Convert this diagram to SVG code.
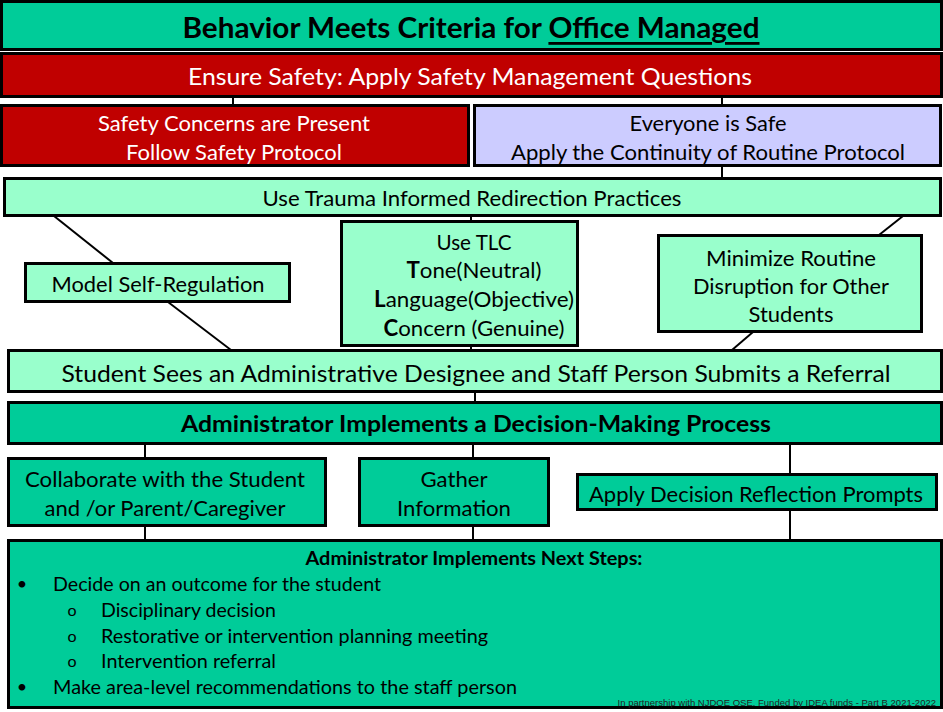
<svg xmlns="http://www.w3.org/2000/svg" width="943" height="712" viewBox="0 0 943 712">
<style>
.box{stroke:#000;stroke-width:3}
.teal{fill:#00CC99}
.red{fill:#C00000}
.lav{fill:#CCCCFF}
.mint{fill:#99FFCC}
text{font-family:Lato,"Open Sans","Liberation Sans",sans-serif;fill:#000;text-anchor:middle;dominant-baseline:central}
.t{font-size:22px}
.w{fill:#fff}
.b{font-weight:bold}
.l{text-anchor:start}
.s20{font-size:20px}
.bul{font-size:18px}
.sub{font-size:16px}
.foot{font-family:"Liberation Sans",Arial,sans-serif;font-size:9.5px;fill:#222;text-anchor:end}
.c line{stroke:#000;stroke-width:2}
</style>
<rect width="943" height="712" fill="#fff"/>
<g class="c" id="connectors">
<line x1="233" y1="97" x2="233" y2="105"/>
<line x1="722" y1="97" x2="722" y2="105"/>
<line x1="722" y1="166" x2="722" y2="178"/>
<line x1="54" y1="216" x2="113" y2="263"/>
<line x1="168" y1="302" x2="231" y2="350"/>
<line x1="471" y1="216" x2="471" y2="221"/>
<line x1="471" y1="346" x2="471" y2="350"/>
<line x1="903" y1="216" x2="879" y2="235"/>
<line x1="753" y1="332" x2="732" y2="350"/>
<line x1="475" y1="392" x2="475" y2="402"/>
<line x1="145" y1="444" x2="145" y2="458"/>
<line x1="473" y1="444" x2="473" y2="458"/>
<line x1="790" y1="444" x2="790" y2="474"/>
<line x1="145" y1="526" x2="145" y2="540"/>
<line x1="473" y1="526" x2="473" y2="540"/>
<line x1="790" y1="510" x2="790" y2="540"/>
</g>
<g id="title">
<rect class="box teal" x="1.5" y="1.5" width="940" height="48"/>
<text class="b" x="471" y="27" style="font-size:28px" textLength="577" lengthAdjust="spacingAndGlyphs">Behavior Meets Criteria for <tspan text-decoration="underline">Office Managed</tspan></text>
</g>
<g id="ensure">
<rect class="box red" x="1.5" y="53.5" width="940" height="43"/>
<text class="w" x="470" y="76" style="font-size:23px" textLength="564" lengthAdjust="spacingAndGlyphs">Ensure Safety:  Apply Safety Management Questions</text>
</g>
<g id="concerns">
<rect class="box red" x="1.5" y="105.5" width="467" height="60"/>
<text class="t w" x="234" y="122" textLength="272" lengthAdjust="spacingAndGlyphs">Safety Concerns are Present</text>
<text class="t w" x="234" y="151" textLength="216" lengthAdjust="spacingAndGlyphs">Follow Safety Protocol</text>
</g>
<g id="safe">
<rect class="box lav" x="474.5" y="105.5" width="466" height="60"/>
<text class="t" x="708" y="122" textLength="157" lengthAdjust="spacingAndGlyphs">Everyone is Safe</text>
<text class="t" x="708" y="151" textLength="394" lengthAdjust="spacingAndGlyphs">Apply the Continuity of Routine Protocol</text>
</g>
<g id="trauma">
<rect class="box mint" x="4.5" y="178.5" width="936" height="37"/>
<text class="t" x="472" y="197" textLength="419" lengthAdjust="spacingAndGlyphs">Use Trauma Informed Redirection Practices</text>
</g>
<g id="model">
<rect class="box mint" x="25.5" y="263.5" width="264" height="38"/>
<text class="t" x="158" y="283" textLength="213" lengthAdjust="spacingAndGlyphs">Model Self-Regulation</text>
</g>
<g id="tlc">
<rect class="box mint" x="341.5" y="221.5" width="236" height="124"/>
<text class="t" x="474" y="241" textLength="75" lengthAdjust="spacingAndGlyphs">Use TLC</text>
<text class="t" x="474" y="269" textLength="135" lengthAdjust="spacingAndGlyphs"><tspan class="b">T</tspan>one(Neutral)</text>
<text class="t" x="474" y="298" textLength="200" lengthAdjust="spacingAndGlyphs"><tspan class="b">L</tspan>anguage(Objective)</text>
<text class="t" x="474" y="327" textLength="181" lengthAdjust="spacingAndGlyphs"><tspan class="b">C</tspan>oncern (Genuine)</text>
</g>
<g id="minimize">
<rect class="box mint" x="658.5" y="235.5" width="263" height="96"/>
<text class="t" x="791" y="257" textLength="170" lengthAdjust="spacingAndGlyphs">Minimize Routine</text>
<text class="t" x="791" y="285" textLength="196" lengthAdjust="spacingAndGlyphs">Disruption for Other</text>
<text class="t" x="791" y="313" textLength="85" lengthAdjust="spacingAndGlyphs">Students</text>
</g>
<g id="student">
<rect class="box mint" x="8.5" y="350.5" width="933" height="41"/>
<text x="476" y="373" style="font-size:23px" textLength="829" lengthAdjust="spacingAndGlyphs">Student Sees an Administrative Designee and Staff Person Submits a Referral</text>
</g>
<g id="admin">
<rect class="box teal" x="8.5" y="402.5" width="933" height="41"/>
<text class="t b" x="476" y="423" textLength="590" lengthAdjust="spacingAndGlyphs">Administrator Implements a Decision-Making Process</text>
</g>
<g id="collab">
<rect class="box teal" x="8.5" y="458.5" width="317" height="67"/>
<text class="t" x="165" y="478" textLength="280" lengthAdjust="spacingAndGlyphs">Collaborate with the Student</text>
<text class="t" x="165" y="507" textLength="241" lengthAdjust="spacingAndGlyphs">and /or Parent/Caregiver</text>
</g>
<g id="gather">
<rect class="box teal" x="359.5" y="458.5" width="189" height="67"/>
<text class="t" x="454" y="478" textLength="67" lengthAdjust="spacingAndGlyphs">Gather</text>
<text class="t" x="454" y="507" textLength="114" lengthAdjust="spacingAndGlyphs">Information</text>
</g>
<g id="apply">
<rect class="box teal" x="577.5" y="474.5" width="359" height="35"/>
<text class="t" x="756" y="493" textLength="334" lengthAdjust="spacingAndGlyphs">Apply Decision Reflection Prompts</text>
</g>
<g id="nextsteps">
<rect class="box teal" x="8.5" y="540.5" width="933" height="167"/>
<text class="b" x="474" y="558" style="font-size:18px" textLength="337" lengthAdjust="spacingAndGlyphs">Administrator Implements Next Steps:</text>
<text class="bul" x="22" y="583">•</text>
<text class="l s20" x="53" y="583" textLength="328" lengthAdjust="spacingAndGlyphs">Decide on an outcome for the student</text>
<text class="sub" x="72" y="609">o</text>
<text class="l s20" x="101" y="609" textLength="175" lengthAdjust="spacingAndGlyphs">Disciplinary decision</text>
<text class="sub" x="72" y="635">o</text>
<text class="l s20" x="101" y="635" textLength="387" lengthAdjust="spacingAndGlyphs">Restorative or intervention planning meeting</text>
<text class="sub" x="72" y="660">o</text>
<text class="l s20" x="101" y="660" textLength="175" lengthAdjust="spacingAndGlyphs">Intervention referral</text>
<text class="bul" x="22" y="686">•</text>
<text class="l s20" x="53" y="686" textLength="464" lengthAdjust="spacingAndGlyphs">Make area-level recommendations to the staff person</text>
<text class="foot" x="936" y="702">In partnership with NJDOE OSE. Funded by IDEA funds - Part B 2021-2022</text>
</g>
</svg>
